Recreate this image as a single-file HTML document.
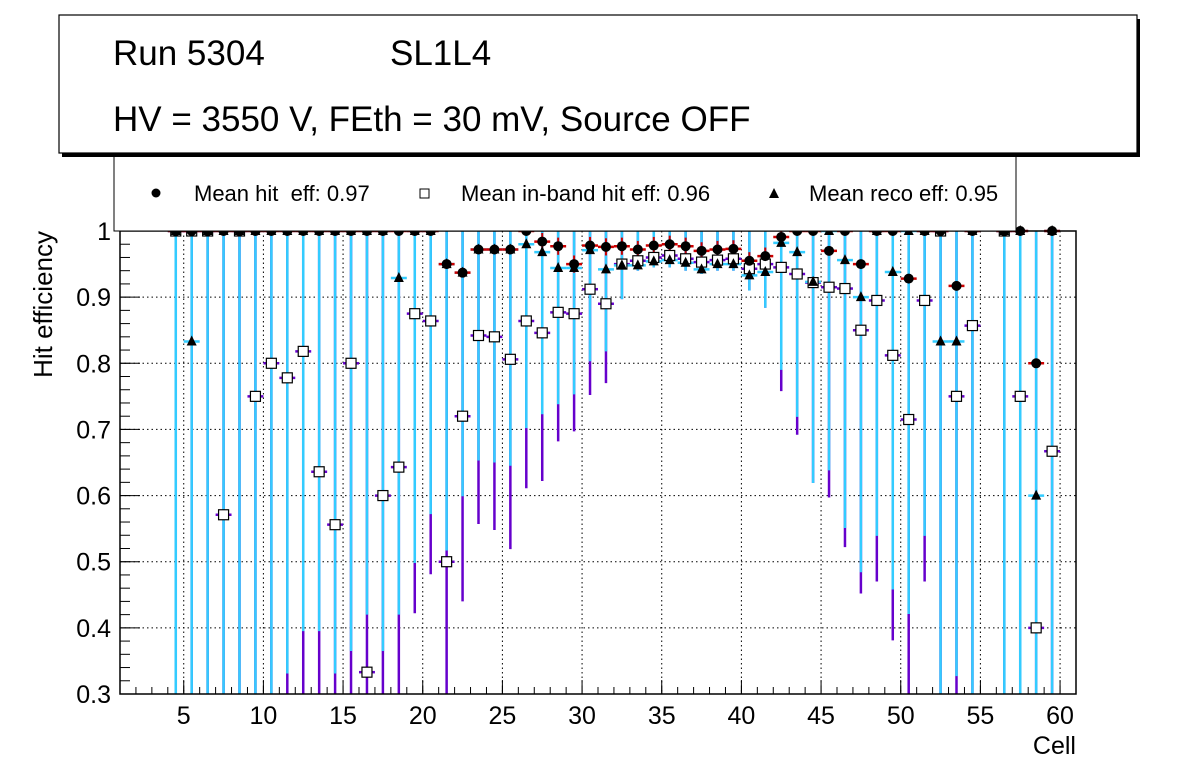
<!DOCTYPE html>
<html><head><meta charset="utf-8"><style>
body{margin:0;background:#fff;width:1196px;height:772px;overflow:hidden}
svg{display:block;font-family:"Liberation Sans",sans-serif}
</style></head><body>
<svg id="c" width="1196" height="772">
<rect x="0" y="0" width="1196" height="772" fill="#fff"/>
<g id="grid"></g>
<g id="marks"></g>
<rect x="120" y="231" width="956" height="463" fill="none" stroke="#000" stroke-width="1.5"/>
<g id="axes"></g>
<text x="1076" y="754" text-anchor="end" font-size="25">Cell</text>
<text transform="translate(52,231) rotate(-90)" text-anchor="end" font-size="26">Hit efficiency</text>
<g>
<rect x="114" y="140" width="902" height="91" fill="#fff" stroke="#000" stroke-width="1"/>
<circle cx="156" cy="193" r="4.5" fill="#000"/>
<text x="194" y="201" font-size="22" xml:space="preserve">Mean hit  eff: 0.97</text>
<rect x="420" y="189" width="9" height="9" fill="#fff" stroke="#000"/>
<text x="461" y="201" font-size="22">Mean in-band hit eff: 0.96</text>
<polygon points="774,188 779,198 769,198" fill="#000"/>
<text x="809" y="201" font-size="22">Mean reco eff: 0.95</text>
</g>
<g>
<rect x="62" y="19" width="1078" height="138" fill="#000"/>
<rect x="59" y="15" width="1078" height="138" fill="#fff" stroke="#000" stroke-width="1.2"/>
<text x="113" y="65" font-size="35">Run 5304</text>
<text x="390" y="65" font-size="35">SL1L4</text>
<text x="113" y="131" font-size="35">HV = 3550 V, FEth = 30 mV, Source OFF</text>
</g>
</svg>
<script>
const cells=[4.5,5.5,6.5,7.5,8.5,9.5,10.5,11.5,12.5,13.5,14.5,15.5,16.5,17.5,18.5,19.5,20.5,21.5,22.5,23.5,24.5,25.5,26.5,27.5,28.5,29.5,30.5,31.5,32.5,33.5,34.5,35.5,36.5,37.5,38.5,39.5,40.5,41.5,42.5,43.5,44.5,45.5,46.5,47.5,48.5,49.5,50.5,51.5,52.5,53.5,54.5,55.5,56.5,57.5,58.5,59.5];
const hitEff=[1,1,1,1,1,1,1,1,1,1,1,1,1,1,1,1,1,0.95,0.937,0.972,0.972,0.972,1,0.984,0.977,0.95,0.978,0.976,0.977,0.972,0.978,0.98,0.977,0.97,0.972,0.973,0.955,0.962,0.991,1,1,0.97,1,0.95,1,1,0.928,1,1,0.917,1,null,1,1,0.8,1];
const inbandEff=[1,1,1,0.571,1,0.75,0.8,0.778,0.818,0.636,0.556,0.8,0.333,0.6,0.643,0.875,0.864,0.5,0.72,0.842,0.84,0.806,0.864,0.846,0.877,0.875,0.912,0.89,0.95,0.955,0.96,0.963,0.958,0.953,0.956,0.958,0.943,0.95,0.945,0.935,0.922,0.915,0.913,0.85,0.895,0.812,0.715,0.895,1,0.75,0.857,null,1,0.75,0.4,0.667];
const recoEff=[1,0.833,1,1,1,1,1,1,1,1,1,1,1,1,0.929,1,1,0.95,0.937,0.972,0.972,0.972,0.98,0.968,0.944,0.944,0.971,0.942,0.948,0.948,0.954,0.956,0.952,0.942,0.95,0.95,0.933,0.938,0.982,0.968,0.923,1,0.956,0.9,1,0.938,1,1,0.833,0.833,1,null,1,1,0.6,1];
const recoLow=[0.3,0.3,0.3,0.3,0.3,0.3,0.3,0.331,0.395,0.395,0.331,0.365,0.42,0.365,0.42,0.498,0.572,0.517,0.599,0.653,0.65,0.645,0.702,0.723,0.738,0.753,0.803,0.818,0.897,0.94,0.945,0.945,0.94,0.935,0.94,0.94,0.91,0.884,0.79,0.719,0.619,0.638,0.551,0.484,0.539,0.458,0.421,0.539,0.3,0.327,0.3,null,0.3,0.3,0.3,0.3];
const inbandLow=[0.3,0.3,0.3,0.3,0.3,0.3,0.3,0.3,0.3,0.3,0.3,0.3,0.3,0.3,0.3,0.422,0.481,0.3,0.44,0.557,0.548,0.519,0.611,0.622,0.682,0.697,0.752,0.77,0.897,0.94,0.945,0.945,0.94,0.935,0.94,0.94,0.91,0.884,0.758,0.692,0.619,0.597,0.522,0.452,0.47,0.381,0.3,0.47,0.3,0.3,0.3,null,0.3,0.3,0.3,0.3];
const xTicks=[5,10,15,20,25,30,35,40,45,50,55,60];
const yTicks=[0.3,0.4,0.5,0.6,0.7,0.8,0.9,1];
const yTickLabels=["0.3","0.4","0.5","0.6","0.7","0.8","0.9","1"];

const X0=120,X1=1076,Y0=694,Y1=231,XMIN=1,XMAX=61,YMIN=0.3,YMAX=1;
const sx=v=>X0+(v-XMIN)/(XMAX-XMIN)*(X1-X0);
const sy=v=>Y0-(Math.min(Math.max(v,YMIN),YMAX)-YMIN)/(YMAX-YMIN)*(Y0-Y1);
const NS="http://www.w3.org/2000/svg";
function mk(parent,tag,attrs){const e=document.createElementNS(NS,tag);for(const k in attrs)e.setAttribute(k,attrs[k]);parent.appendChild(e);return e;}
const grid=document.getElementById('grid'),axes=document.getElementById('axes'),marks=document.getElementById('marks');
xTicks.forEach(t=>{
  const g=mk(grid,'line',{x1:sx(t),x2:sx(t),y1:Y1,y2:Y0,stroke:'#000','stroke-dasharray':'1.5 3','stroke-width':1});
  
  
  const tl=mk(axes,'text',{x:sx(t),y:724,'text-anchor':'middle','font-size':25});
  tl.textContent=String(t);
  
  
  mk(axes,'line',{x1:sx(t),x2:sx(t),y1:Y0,y2:Y0-14,stroke:'#000','stroke-width':1});
});
for(let t=2;t<=60;t++){mk(axes,'line',{x1:sx(t),x2:sx(t),y1:Y0,y2:Y0-7,stroke:'#000','stroke-width':1});}
yTicks.forEach((t,i)=>{
  const g=mk(grid,'line',{x1:X0,x2:X1,y1:sy(t),y2:sy(t),stroke:'#000','stroke-dasharray':'1.5 3','stroke-width':1});
  
  
  const tl=mk(axes,'text',{x:111,y:sy(t)+9,'text-anchor':'end','font-size':25});
  tl.textContent=yTickLabels[i];
  
  
  mk(axes,'line',{x1:X0,x2:X0+20,y1:sy(t),y2:sy(t),stroke:'#000','stroke-width':1});
});
for(let t=0.32;t<1;t+=0.02){mk(axes,'line',{x1:X0,x2:X0+10,y1:sy(t),y2:sy(t),stroke:'#000','stroke-width':1});}

const hw=(X1-X0)/(XMAX-XMIN)/2;
cells.forEach((c,i)=>{
  if(hitEff[i]===null)return;
  const x=sx(c);
  const pb=mk(marks,'line',{x1:x,x2:x,y1:sy(1),y2:sy(inbandLow[i]),stroke:'#6600cc','stroke-width':2.5});
  
  
  const cb=mk(marks,'line',{x1:x,x2:x,y1:sy(1),y2:sy(recoLow[i]),stroke:'#33ccff','stroke-width':2.5});
  
  
  if(hitEff[i]<1&&hitEff[i]>0.94&&c>26&&c<43){mk(marks,'line',{x1:x,x2:x,y1:sy(hitEff[i]+0.013),y2:sy(hitEff[i]-0.013),stroke:'#cc0000','stroke-width':2});}
  mk(marks,'line',{x1:x-hw,x2:x+hw,y1:sy(inbandEff[i]),y2:sy(inbandEff[i]),stroke:'#6600cc','stroke-width':2.5});
  mk(marks,'line',{x1:x-hw,x2:x+hw,y1:sy(recoEff[i]),y2:sy(recoEff[i]),stroke:'#33ccff','stroke-width':2.5});
  mk(marks,'line',{x1:x-hw,x2:x+hw,y1:sy(hitEff[i]),y2:sy(hitEff[i]),stroke:'#cc0000','stroke-width':2.5});
});
cells.forEach((c,i)=>{
  if(hitEff[i]===null)return;
  const x=sx(c);
  const sq=mk(marks,'rect',{x:x-5,y:sy(inbandEff[i])-5,width:10,height:10,fill:'#fff',stroke:'#000','stroke-width':1.2});
  
  
  const y=sy(recoEff[i]);
  const tr=mk(marks,'polygon',{points:`${x},${y-6} ${x+5},${y+4} ${x-5},${y+4}`,fill:'#000'});
  
  
  const ci=mk(marks,'circle',{cx:x,cy:sy(hitEff[i]),r:5,fill:'#000'});
  
  
});
</script>
</body></html>
